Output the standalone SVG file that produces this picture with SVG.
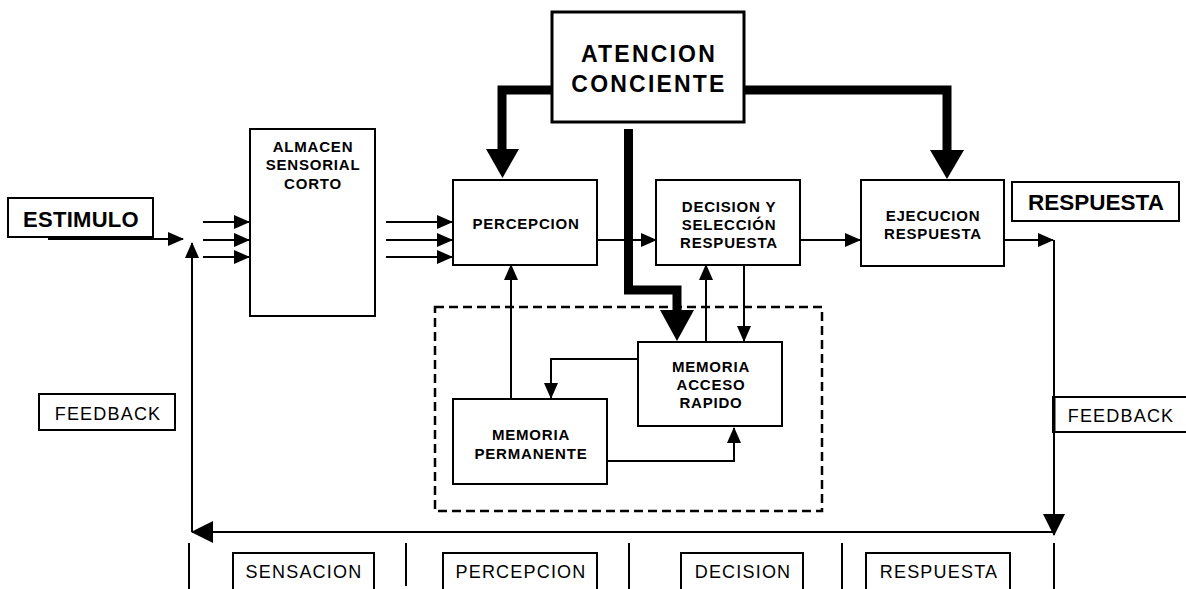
<svg xmlns="http://www.w3.org/2000/svg" width="1186" height="589" viewBox="0 0 1186 589">
<style>
  .box { fill: #fff; stroke: #000; stroke-width: 2; }
  .bx3 { fill: #fff; stroke: #000; stroke-width: 3; }
  .lbl { font-family: "Liberation Sans", Arial, sans-serif; font-weight: bold; font-size: 15px; letter-spacing: 0.8px; text-anchor: middle; fill: #000; }
  .big { font-family: "Liberation Sans", Arial, sans-serif; font-weight: bold; text-anchor: middle; fill: #000; }
  .reg { font-family: "Liberation Sans", Arial, sans-serif; font-size: 18px; letter-spacing: 1.2px; text-anchor: middle; fill: #000; }
  .thin { fill: none; stroke: #000; stroke-width: 2; }
  .thick { fill: none; stroke: #000; stroke-width: 9; stroke-linejoin: miter; }
  .head { fill: #000; }
</style>
<defs>
  <marker id="ah" viewBox="0 0 16 14" refX="15" refY="7" markerWidth="16" markerHeight="14" markerUnits="userSpaceOnUse" orient="auto">
    <path d="M0,0 L16,7 L0,14 z" fill="#000"/>
  </marker>
  <marker id="ahb" viewBox="0 0 22 22" refX="21" refY="11" markerWidth="22" markerHeight="22" markerUnits="userSpaceOnUse" orient="auto">
    <path d="M0,0 L22,11 L0,22 z" fill="#000"/>
  </marker>
</defs>
<rect width="1186" height="589" fill="#fff"/>

<g id="connectors">
  <path class="thin" d="M48,239 H183" marker-end="url(#ah)"/>
  <path class="thin" d="M203,222 H249" marker-end="url(#ah)"/>
  <path class="thin" d="M203,240 H249" marker-end="url(#ah)"/>
  <path class="thin" d="M203,257 H249" marker-end="url(#ah)"/>
  <path class="thin" d="M261,222 H366" marker-end="url(#ah)"/>
  <path class="thin" d="M261,240 H366" marker-end="url(#ah)"/>
  <path class="thin" d="M261,257 H366" marker-end="url(#ah)"/>
  <path class="thin" d="M386,222 H452" marker-end="url(#ah)"/>
  <path class="thin" d="M386,240 H452" marker-end="url(#ah)"/>
  <path class="thin" d="M386,257 H452" marker-end="url(#ah)"/>
  <path class="thin" d="M597,240 H656" marker-end="url(#ah)"/>
  <path class="thin" d="M800,240 H860" marker-end="url(#ah)"/>
  <path class="thin" d="M1004,240 H1053" marker-end="url(#ah)"/>
  <path class="thin" d="M1054,240 V535" marker-end="url(#ahb)"/>
  <path class="thin" d="M1054,532 H192" marker-end="url(#ahb)"/>
  <path class="thin" d="M192,532 V243" marker-end="url(#ah)"/>
  <path class="thin" d="M511,399 V265" marker-end="url(#ah)"/>
  <path class="thin" d="M706,342 V265" marker-end="url(#ah)"/>
  <path class="thin" d="M744,265 V341" marker-end="url(#ah)"/>
  <path class="thin" d="M657,359 H551 V398" marker-end="url(#ah)"/>
  <path class="thin" d="M599,461 H734 V428" marker-end="url(#ah)"/>
  <path class="thick" d="M551,90 H502 V151"/>
  <polygon class="head" points="486,149 519,149 502.5,178"/>
  <path class="thick" d="M744,90 H947 V151"/>
  <polygon class="head" points="930,150 964,150 947,179"/>
  <path class="thick" d="M628.5,129 V290 H677 V312"/>
  <polygon class="head" points="660,310 694,310 677,341"/>
  <g class="thin">
    <line x1="189" y1="543" x2="189" y2="589"/>
    <line x1="406" y1="543" x2="406" y2="586"/>
    <line x1="629" y1="543" x2="629" y2="589"/>
    <line x1="842" y1="543" x2="842" y2="589"/>
    <line x1="1054" y1="543" x2="1054" y2="589"/>
  </g>
</g>

<g id="memoria-grupo">
  <rect x="435" y="307" width="387" height="204" fill="none" stroke="#000" stroke-width="2.5" stroke-dasharray="9,5"/>
</g>

<g id="estimulo">
  <rect class="box" x="8" y="198" width="145" height="39" stroke-width="2.5"/>
  <text class="big" x="81" y="227" font-size="22" letter-spacing="0.3">ESTIMULO</text>
</g>

<g id="almacen">
  <rect class="box" x="250" y="129" width="125" height="187"/>
  <text class="lbl" x="313" y="151.5">ALMACEN</text>
  <text class="lbl" x="313" y="169.5">SENSORIAL</text>
  <text class="lbl" x="313" y="188.5">CORTO</text>
</g>

<g id="atencion">
  <rect class="bx3" x="552" y="12" width="192" height="110"/>
  <text class="big" x="649" y="62" font-size="23" letter-spacing="2.2">ATENCION</text>
  <text class="big" x="649" y="92" font-size="23" letter-spacing="2.2">CONCIENTE</text>
</g>

<g id="percepcion">
  <rect class="box" x="453" y="180" width="144" height="85"/>
  <text class="lbl" x="526" y="229">PERCEPCION</text>
</g>

<g id="decision">
  <rect class="box" x="656" y="180" width="144" height="85"/>
  <text class="lbl" x="729" y="211.5">DECISION Y</text>
  <text class="lbl" x="729" y="229.5">SELECCIÓN</text>
  <text class="lbl" x="729" y="247.5">RESPUESTA</text>
</g>

<g id="ejecucion">
  <rect class="box" x="861" y="180" width="143" height="86"/>
  <text class="lbl" x="933" y="220.5">EJECUCION</text>
  <text class="lbl" x="933" y="238.5">RESPUESTA</text>
</g>

<g id="respuesta">
  <rect class="box" x="1012" y="182" width="167" height="39" stroke-width="2.5"/>
  <text class="big" x="1096" y="210" font-size="22.5">RESPUESTA</text>
</g>

<g id="memoria-acceso">
  <rect class="box" x="638" y="342" width="144" height="84"/>
  <text class="lbl" x="711" y="371.5">MEMORIA</text>
  <text class="lbl" x="711" y="389.5">ACCESO</text>
  <text class="lbl" x="711" y="407.5">RAPIDO</text>
</g>

<g id="memoria-permanente">
  <rect class="box" x="453" y="399" width="154" height="85"/>
  <text class="lbl" x="531" y="439.5">MEMORIA</text>
  <text class="lbl" x="531" y="458.5">PERMANENTE</text>
</g>

<g id="feedback-izq">
  <rect class="box" x="39" y="394" width="136" height="36"/>
  <text class="reg" x="108" y="420">FEEDBACK</text>
</g>

<g id="feedback-der">
  <rect class="box" x="1053" y="397" width="140" height="35"/>
  <line x1="1054" y1="397" x2="1054" y2="432" stroke="#000" stroke-width="3"/>
  <text class="reg" x="1121" y="422">FEEDBACK</text>
</g>

<g id="etapa-sensacion">
  <rect class="box" x="233" y="553" width="141" height="42"/>
  <text class="reg" x="304" y="578">SENSACION</text>
</g>
<g id="etapa-percepcion">
  <rect class="box" x="443" y="553" width="154" height="42"/>
  <text class="reg" x="521" y="578">PERCEPCION</text>
</g>
<g id="etapa-decision">
  <rect class="box" x="681" y="553" width="122" height="42"/>
  <text class="reg" x="743" y="578">DECISION</text>
</g>
<g id="etapa-respuesta">
  <rect class="box" x="866" y="553" width="144" height="42"/>
  <text class="reg" x="939" y="578">RESPUESTA</text>
</g>
</svg>
